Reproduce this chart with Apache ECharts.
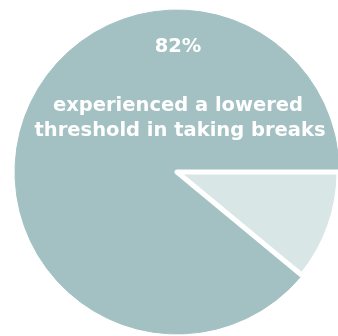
<!DOCTYPE html>
<html>
<head>
<meta charset="utf-8">
<script src="https://cdn.jsdelivr.net/npm/echarts@6/dist/echarts.min.js"></script>
<style>
  html, body { margin: 0; padding: 0; background: #ffffff; }
  #chart { width: 338px; height: 336px; }
</style>
</head>
<body>
<div id="chart"></div>
<script>
// Share of respondents (percent)
const sliceNames = ['other', 'lowered', 'not lowered'];
const sliceValues = [7, 82, 11];
const sliceColors = ['#a3c1c3', '#a3c1c3', '#d8e6e6'];
const headlineLines = ['experienced a lowered', 'threshold in taking breaks'];

const total = sliceValues.reduce((a, b) => a + b, 0);
// The light slice sits last so it starts at 3 o'clock and runs clockwise
const startAngle = 360 - sliceValues[2] / total * 360;
const loweredValue = sliceValues[sliceNames.indexOf('lowered')];

const chart = echarts.init(document.getElementById('chart'), null, { renderer: 'canvas' });

const font = '"DejaVu Sans", "Open Sans", sans-serif';

function headline(text, x, y) {
  return {
    type: 'text', x: x, y: y, z: 100,
    style: {
      text: text, fill: '#ffffff',
      font: 'bold 19.5px ' + font, align: 'center', verticalAlign: 'middle'
    }
  };
}

chart.setOption({
  animation: false,
  series: [{
    type: 'pie',
    center: [177, 172],
    radius: [0, 162],
    startAngle: startAngle,
    clockwise: true,
    silent: true,
    label: { show: false },
    labelLine: { show: false },
    data: sliceNames.map((n, i) => ({
      name: n,
      value: sliceValues[i],
      itemStyle: i === 2
        ? { color: sliceColors[i], borderColor: '#ffffff', borderWidth: 5 }
        : { color: sliceColors[i], borderColor: sliceColors[i], borderWidth: 1 }
    }))
  }],
  graphic: [
    headline(loweredValue + '%', 178, 47),
    headline(headlineLines[0], 178, 106),
    headline(headlineLines[1], 180, 131)
  ]
});
</script>
</body>
</html>
